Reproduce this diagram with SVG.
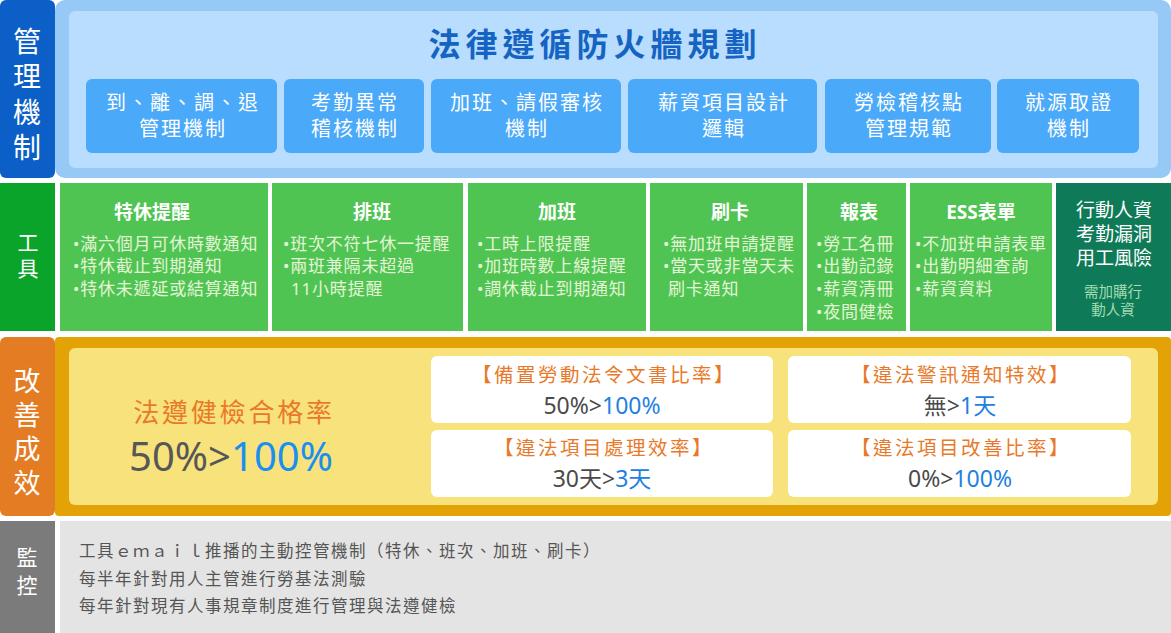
<svg xmlns="http://www.w3.org/2000/svg" width="1171" height="633" viewBox="0 0 1171 633">
<style>
text{font-family:"Noto Sans","Noto Sans CJK TC",sans-serif}
.lbl{fill:#fff;font-size:27px;text-anchor:middle}
.sub{fill:#4aa9f9}
.subt{fill:#fff;font-size:20px;letter-spacing:2px;text-anchor:middle}
.card{fill:#4fc453}
.ct{fill:#fff;font-size:19px;font-weight:bold;text-anchor:middle}
.bl{fill:#e4f5d5;font-size:17px;letter-spacing:0.8px}
.wb{fill:#fff}
.ot{fill:#e8792a;font-size:19.5px;letter-spacing:2.5px;text-anchor:middle}
.vt{fill:#4a4a4a;font-size:23px;text-anchor:middle}
.bv{fill:#1f80e2}
.mt{fill:#555;font-size:16.5px;letter-spacing:1.5px}
</style>
<rect width="1171" height="633" fill="#fff"/>

<g id="row-management">
<rect x="55" y="0" width="1116" height="178" rx="10" fill="#97c9f7"/>
<rect x="0" y="0" width="55" height="178" rx="6" fill="#0b5fc6"/>
<rect x="69" y="11" width="1089" height="157" rx="6" fill="#b9ddfe"/>
<text class="lbl" style="font-size:28px"><tspan x="27" y="52">管</tspan><tspan x="27" y="87">理</tspan><tspan x="27" y="123">機</tspan><tspan x="27" y="158">制</tspan></text>
<text x="595" y="56" fill="#1563c2" font-size="32" font-weight="bold" letter-spacing="5" text-anchor="middle">法律遵循防火牆規劃</text>
</g>
<g id="m1"><rect class="sub" x="86" y="79" width="191" height="74" rx="6"/><text class="subt"><tspan x="183" y="110">到、離、調、退</tspan><tspan x="183" y="136">管理機制</tspan></text></g>
<g id="m2"><rect class="sub" x="284" y="79" width="140" height="74" rx="6"/><text class="subt"><tspan x="355" y="110">考勤異常</tspan><tspan x="355" y="136">稽核機制</tspan></text></g>
<g id="m3"><rect class="sub" x="431" y="79" width="190" height="74" rx="6"/><text class="subt"><tspan x="527" y="110">加班、請假審核</tspan><tspan x="527" y="136">機制</tspan></text></g>
<g id="m4"><rect class="sub" x="628" y="79" width="189" height="74" rx="6"/><text class="subt"><tspan x="724" y="110">薪資項目設計</tspan><tspan x="724" y="136">邏輯</tspan></text></g>
<g id="m5"><rect class="sub" x="825" y="79" width="166" height="74" rx="6"/><text class="subt"><tspan x="909" y="110">勞檢稽核點</tspan><tspan x="909" y="136">管理規範</tspan></text></g>
<g id="m6"><rect class="sub" x="997" y="79" width="142" height="74" rx="6"/><text class="subt"><tspan x="1069" y="110">就源取證</tspan><tspan x="1069" y="136">機制</tspan></text></g>

<g id="row-tools">
<rect x="0" y="183" width="55" height="148" fill="#0aa42a"/>
<text class="lbl" style="font-size:21px"><tspan x="28" y="250">工</tspan><tspan x="28" y="276">具</tspan></text>
</g>
<g id="t1"><rect class="card" x="60" y="183" width="208" height="148"/><text class="ct" x="152" y="219">特休提醒</text><text class="bl"><tspan x="73" y="250">•滿六個月可休時數通知</tspan><tspan x="73" y="272">•特休截止到期通知</tspan><tspan x="73" y="295">•特休未遞延或結算通知</tspan></text></g>
<g id="t2"><rect class="card" x="272" y="183" width="191" height="148"/><text class="ct" x="372" y="219">排班</text><text class="bl"><tspan x="283" y="250">•班次不符七休一提醒</tspan><tspan x="283" y="272">•兩班兼隔未超過</tspan><tspan x="291" y="295">11小時提醒</tspan></text></g>
<g id="t3"><rect class="card" x="468" y="183" width="178" height="148"/><text class="ct" x="557" y="219">加班</text><text class="bl"><tspan x="477" y="250">•工時上限提醒</tspan><tspan x="477" y="272">•加班時數上線提醒</tspan><tspan x="477" y="295">•調休截止到期通知</tspan></text></g>
<g id="t4"><rect class="card" x="650" y="183" width="153" height="148"/><text class="ct" x="730" y="219">刷卡</text><text class="bl"><tspan x="663" y="250">•無加班申請提醒</tspan><tspan x="663" y="272">•當天或非當天未</tspan><tspan x="668" y="295">刷卡通知</tspan></text></g>
<g id="t5"><rect class="card" x="807" y="183" width="99" height="148"/><text class="ct" x="859" y="219">報表</text><text class="bl"><tspan x="816" y="250">•勞工名冊</tspan><tspan x="816" y="272">•出勤記錄</tspan><tspan x="816" y="295">•薪資清冊</tspan><tspan x="816" y="318">•夜間健檢</tspan></text></g>
<g id="t6"><rect class="card" x="910" y="183" width="142" height="148"/><text class="ct" x="981" y="219">ESS表單</text><text class="bl"><tspan x="915" y="250">•不加班申請表單</tspan><tspan x="915" y="272">•出勤明細查詢</tspan><tspan x="915" y="295">•薪資資料</tspan></text></g>
<g id="t7"><rect x="1056" y="183" width="115" height="148" fill="#0e7a58"/><text fill="#fff" font-size="19" text-anchor="middle"><tspan x="1114" y="217">行動人資</tspan><tspan x="1114" y="241">考勤漏洞</tspan><tspan x="1114" y="265">用工風險</tspan></text><text fill="#a3dcb0" font-size="14.5" text-anchor="middle"><tspan x="1113" y="297">需加購行</tspan><tspan x="1113" y="315">動人資</tspan></text></g>

<g id="row-results">
<rect x="55" y="337" width="1116" height="179" rx="4" fill="#e3a206"/>
<rect x="0" y="337" width="55" height="179" rx="6" fill="#e47c23"/>
<rect x="69" y="348" width="1089" height="157" rx="6" fill="#f8e27b"/>
<text class="lbl"><tspan x="27" y="391">改</tspan><tspan x="27" y="425">善</tspan><tspan x="27" y="459">成</tspan><tspan x="27" y="493">效</tspan></text>
<text x="234" y="422" fill="#e8792a" font-size="26" letter-spacing="2.8" text-anchor="middle">法遵健檢合格率</text>
<text x="231" y="471" fill="#575757" font-size="40" text-anchor="middle">50%&gt;<tspan fill="#1a8ff0">100%</tspan></text>
</g>
<g id="r1"><rect class="wb" x="431" y="356" width="342" height="67" rx="6"/><text class="ot" x="604" y="382">【備置勞動法令文書比率】</text><text class="vt" x="602" y="414">50%&gt;<tspan class="bv">100%</tspan></text></g>
<g id="r2"><rect class="wb" x="431" y="430" width="342" height="67" rx="6"/><text class="ot" x="604" y="455">【違法項目處理效率】</text><text class="vt" x="602" y="487">30天&gt;<tspan class="bv">3天</tspan></text></g>
<g id="r3"><rect class="wb" x="788" y="356" width="343" height="67" rx="6"/><text class="ot" x="961" y="382">【違法警訊通知特效】</text><text class="vt" x="960" y="414">無&gt;<tspan class="bv">1天</tspan></text></g>
<g id="r4"><rect class="wb" x="788" y="430" width="343" height="67" rx="6"/><text class="ot" x="961" y="455">【違法項目改善比率】</text><text class="vt" x="960" y="487">0%&gt;<tspan class="bv">100%</tspan></text></g>

<g id="row-monitor">
<rect x="0" y="521" width="55" height="112" fill="#7b7b7b"/>
<rect x="60" y="521" width="1111" height="112" fill="#e4e4e4"/>
<text class="lbl" style="font-size:21px"><tspan x="27" y="565">監</tspan><tspan x="27" y="593">控</tspan></text>
<text class="mt"><tspan x="79" y="557">工具ｅｍａｉｌ推播的主動控管機制（特休、班次、加班、刷卡）</tspan><tspan x="79" y="585">每半年針對用人主管進行勞基法測驗</tspan><tspan x="79" y="612">每年針對現有人事規章制度進行管理與法遵健檢</tspan></text>
</g>
<g id="connectors"/>
</svg>
